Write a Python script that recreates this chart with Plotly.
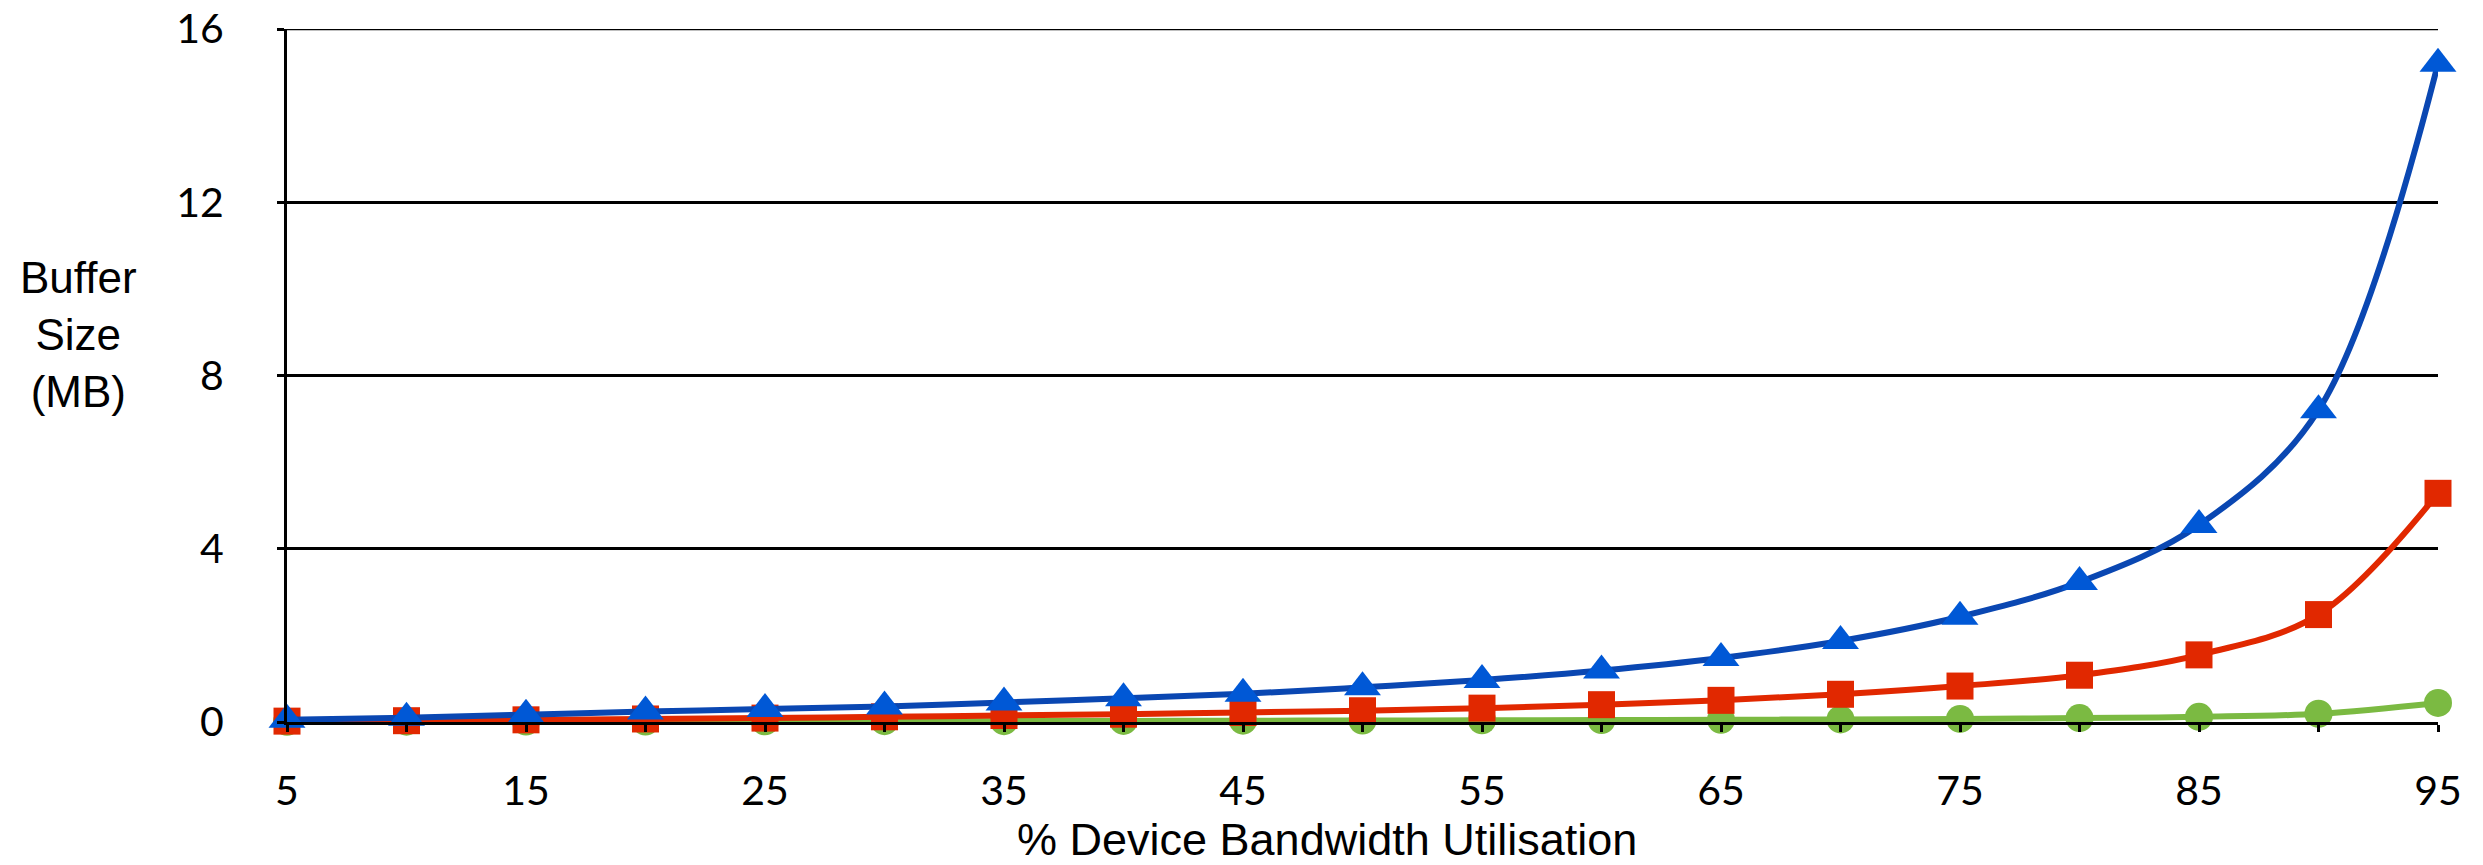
import plotly.graph_objects as go

utilisation = [5, 10, 15, 20, 25, 30, 35, 40, 45, 50, 55, 60, 65, 70, 75, 80, 85, 90, 95]
blue_vals = [0.05, 0.10, 0.17, 0.24, 0.30, 0.36, 0.45, 0.55, 0.65, 0.80, 0.97, 1.19, 1.48, 1.87, 2.43, 3.23, 4.55, 7.20, 15.20]
red_vals = [0.02, 0.03, 0.05, 0.07, 0.09, 0.12, 0.15, 0.18, 0.22, 0.26, 0.32, 0.40, 0.50, 0.64, 0.83, 1.08, 1.55, 2.48, 5.28]
green_vals = [0.005, 0.007, 0.010, 0.012, 0.015, 0.018, 0.020, 0.025, 0.030, 0.035, 0.040, 0.045, 0.050, 0.060, 0.070, 0.090, 0.120, 0.190, 0.440]
y_ticks = [0, 4, 8, 12, 16]
x_tick_text = [str(v) if (v - 5) % 10 == 0 else "" for v in utilisation]

W, H = 2483, 865
L, R, T, B = 287, 45, 29, 143

fig = go.Figure()
fig.add_trace(go.Scatter(
    x=utilisation, y=green_vals, mode="lines+markers",
    line=dict(color="#7BBA42", width=6, shape="spline", smoothing=1),
    marker=dict(symbol="circle", size=28, color="#7BBA42"),
    cliponaxis=False, showlegend=False))
fig.add_trace(go.Scatter(
    x=utilisation, y=red_vals, mode="lines+markers",
    line=dict(color="#E12800", width=6, shape="spline", smoothing=1),
    marker=dict(symbol="square", size=27, color="#E12800"),
    cliponaxis=False, showlegend=False))
fig.add_trace(go.Scatter(
    x=utilisation, y=blue_vals, mode="lines+markers",
    line=dict(color="#0A47B2", width=6, shape="spline", smoothing=1),
    marker=dict(symbol="triangle-up", size=32, color="#0058D6"),
    cliponaxis=False, showlegend=False))

tick_font = dict(family="Lato, Gill Sans, sans-serif", size=41, color="black")

fig.update_layout(
    width=W, height=H,
    margin=dict(l=L, r=R, t=T, b=B, autoexpand=False),
    plot_bgcolor="white", paper_bgcolor="white",
    xaxis=dict(
        range=[5, 95], tickvals=utilisation, ticktext=x_tick_text,
        showgrid=False, zeroline=False, automargin=False,
        showline=True, linecolor="black", linewidth=3,
        ticks="outside", ticklen=7, tickwidth=3, tickcolor="black",
        tickfont=tick_font, ticklabelstandoff=24,
    ),
    yaxis=dict(
        range=[0, 16], tickvals=y_ticks, ticktext=[str(v) for v in y_ticks],
        showgrid=True, gridcolor="black", gridwidth=2.5, zeroline=False, automargin=False,
        showline=True, linecolor="black", linewidth=3,
        ticks="outside", ticklen=7, tickwidth=2.5, tickcolor="black",
        tickfont=tick_font, ticklabelstandoff=45,
    ),
    shapes=[dict(type="line", xref="paper", yref="y", x0=0, x1=1, y0=16, y1=16,
                 line=dict(color="black", width=2.5), layer="below")],
    annotations=[
        dict(text="Buffer<br>Size<br>(MB)", xref="paper", yref="paper",
             x=(78 - L) / (W - L - R), y=(H - B - 334) / (H - T - B),
             xanchor="center", yanchor="middle", showarrow=False, align="center",
             font=dict(family="Liberation Sans, Arial, sans-serif", size=44, color="black")),
        dict(text="% Device Bandwidth Utilisation", xref="paper", yref="paper",
             x=(1327 - L) / (W - L - R), y=(H - B - 839) / (H - T - B),
             xanchor="center", yanchor="middle", showarrow=False, borderpad=0,
             font=dict(family="Liberation Sans, Arial, sans-serif", size=45, color="black")),
    ],
)

fig.write_html("out.html", config={"displayModeBar": False})
with open("out.html", "r", encoding="utf-8") as f:
    html = f.read()
html = html.replace("<head>", "<head><style>html,body{margin:0;padding:0;overflow:hidden;}</style>", 1)
with open("out.html", "w", encoding="utf-8") as f:
    f.write(html)
